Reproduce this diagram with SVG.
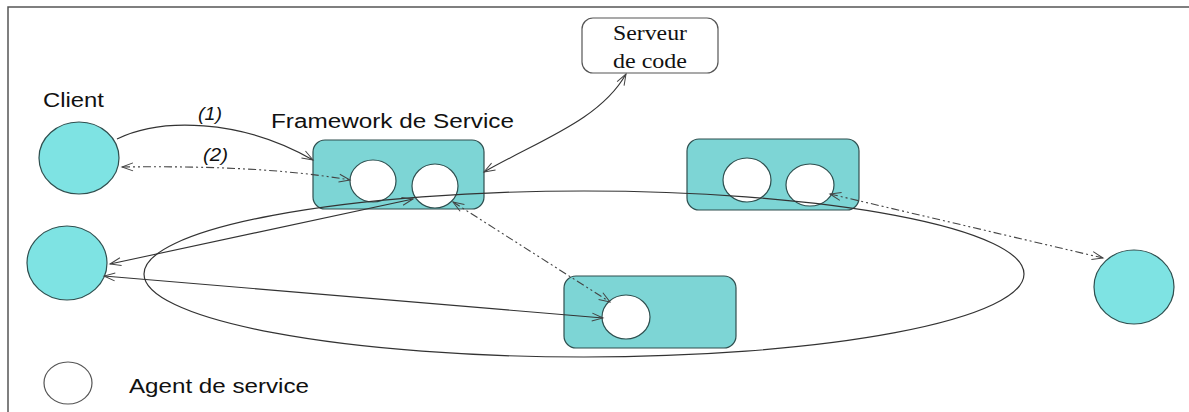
<svg xmlns="http://www.w3.org/2000/svg" width="1189" height="412" viewBox="0 0 1189 412">
<defs>
<marker id="arr" markerUnits="userSpaceOnUse" markerWidth="14" markerHeight="12" refX="12" refY="5" orient="auto-start-reverse" viewBox="0 0 14 12">
<path d="M1,1 L12,5 L1,9" fill="none" stroke="#444" stroke-width="1"/>
</marker>
<style>
.frame{stroke:#555;stroke-width:1.5;fill:none}
.client{fill:#7ee3e3;stroke:#2f4f4f;stroke-width:1.2}
.box{fill:#7dd5d5;stroke:#2f4f4f;stroke-width:1.2}
.agent{fill:#fff;stroke:#2f4f4f;stroke-width:1.2}
.srv{fill:#fff;stroke:#555;stroke-width:1.2}
.sans{font-family:"Liberation Sans",Arial,sans-serif;font-size:20px;fill:#111}
.serif{font-family:"Liberation Serif","Times New Roman",serif;font-size:21px;fill:#111}
.lbl{font-family:"Liberation Sans",Arial,sans-serif;font-size:18px;font-style:italic;fill:#111}
.solid{fill:none;stroke:#333;stroke-width:1.1}
.dash{fill:none;stroke:#444;stroke-width:1.1;stroke-dasharray:8 3 2 3 2 3}
.orbit{fill:none;stroke:#333;stroke-width:1.2}
</style>
</defs>
<g id="frame">
<path class="frame" d="M1189,7 L8,7 L8,412"/>
</g>
<g id="client1">
<ellipse class="client" cx="79" cy="158" rx="40" ry="36"/>
<text class="sans" x="43" y="107" textLength="61" lengthAdjust="spacingAndGlyphs">Client</text>
</g>
<g id="client2">
<ellipse class="client" cx="67" cy="263" rx="40" ry="37"/>
</g>
<g id="client3">
<ellipse class="client" cx="1134" cy="287" rx="40" ry="37"/>
</g>
<g id="serveur">
<rect class="srv" x="582" y="18" width="136" height="55" rx="11"/>
<text class="serif" x="650" y="40" text-anchor="middle" textLength="74" lengthAdjust="spacingAndGlyphs">Serveur</text>
<text class="serif" x="650" y="68" text-anchor="middle" textLength="74" lengthAdjust="spacingAndGlyphs">de code</text>
</g>
<g id="framework1">
<text class="sans" x="271" y="128" textLength="243" lengthAdjust="spacingAndGlyphs">Framework de Service</text>
<rect class="box" x="313" y="140" width="171" height="69" rx="12"/>
<ellipse class="agent" cx="373" cy="181" rx="23" ry="21"/>
<ellipse class="agent" cx="435" cy="186" rx="23" ry="22"/>
</g>
<g id="framework2">
<rect class="box" x="687" y="139" width="172" height="71" rx="12"/>
<ellipse class="agent" cx="747" cy="180" rx="24" ry="22"/>
<ellipse class="agent" cx="810" cy="185" rx="24" ry="21"/>
</g>
<g id="framework3">
<rect class="box" x="564" y="276" width="172" height="72" rx="12"/>
<ellipse class="agent" cx="626" cy="317" rx="24" ry="22"/>
</g>
<g id="legend">
<ellipse class="srv" cx="68" cy="383" rx="24" ry="21"/>
<text class="sans" x="129" y="393" textLength="180" lengthAdjust="spacingAndGlyphs">Agent de service</text>
</g>
<g id="connectors">
<ellipse class="orbit" cx="584" cy="274" rx="440" ry="83"/>
<path class="solid" d="M117,139 C160,118 240,118 313,160" marker-end="url(#arr)"/>
<text class="lbl" x="198" y="120" textLength="24" lengthAdjust="spacingAndGlyphs">(1)</text>
<path class="dash" d="M122,167 C200,166 280,168 350,180" marker-start="url(#arr)" marker-end="url(#arr)"/>
<text class="lbl" x="203" y="161" textLength="25" lengthAdjust="spacingAndGlyphs">(2)</text>
<path class="solid" d="M484,172 C540,140 600,120 626,74" marker-start="url(#arr)" marker-end="url(#arr)"/>
<path class="solid" d="M110,264 L413,199" marker-start="url(#arr)" marker-end="url(#arr)"/>
<path class="solid" d="M104,276 L603,318" marker-start="url(#arr)" marker-end="url(#arr)"/>
<path class="dash" d="M453,202 L610,302" marker-start="url(#arr)" marker-end="url(#arr)"/>
<path class="dash" d="M830,194 L1103,258" marker-start="url(#arr)" marker-end="url(#arr)"/>
</g>
</svg>
